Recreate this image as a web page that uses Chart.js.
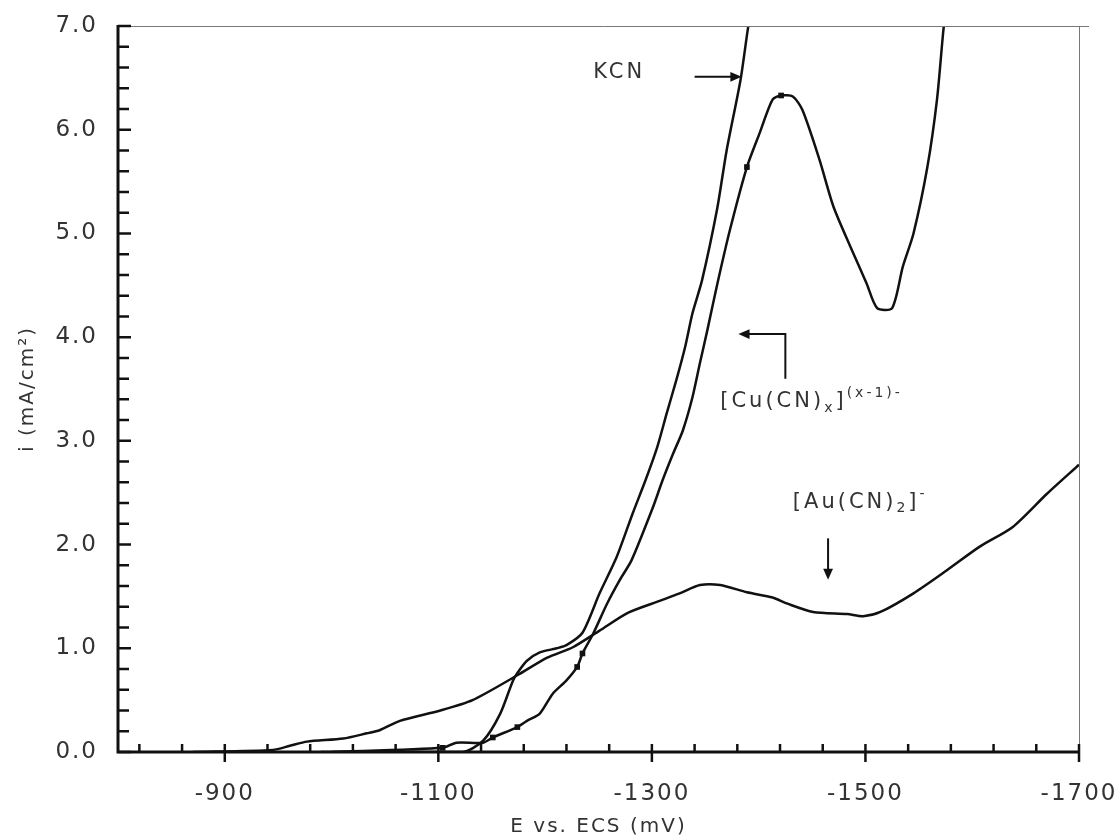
<!DOCTYPE html>
<html>
<head>
<meta charset="utf-8">
<script src="https://cdn.jsdelivr.net/npm/chart.js@4"></script>
<style>
  html,body{margin:0;padding:0;background:#fff;}
  #wrap{width:1119px;height:835px;}
</style>
</head>
<body>
<div id="wrap"><canvas id="cv"></canvas></div>
<script>
// E in mV vs ECS, i in mA/cm2
const auE  = [-870,-945,-961,-977,-1011,-1033,-1045,-1064,-1102,-1132,-1174,-1202,-1226,-1251,-1277,-1308,-1326,-1345,-1364,-1389,-1413,-1427,-1451,-1483,-1498,-1514,-1545,-1576,-1607,-1638,-1670,-1700];
const auI  = [0,0.02,0.06,0.10,0.13,0.18,0.21,0.30,0.40,0.50,0.74,0.91,1.01,1.17,1.34,1.46,1.53,1.61,1.61,1.54,1.49,1.43,1.35,1.33,1.31,1.35,1.53,1.75,1.98,2.17,2.49,2.77];

const kcnE = [-990,-1123,-1142,-1158,-1170,-1176,-1183,-1195,-1211,-1220,-1235,-1251,-1267,-1282,-1294,-1305,-1314,-1323,-1331,-1338,-1347,-1361,-1370,-1383,-1390,-1400];
const kcnI = [0,0,0.11,0.37,0.69,0.79,0.88,0.96,1.0,1.03,1.15,1.53,1.88,2.30,2.62,2.94,3.27,3.59,3.90,4.23,4.55,5.23,5.80,6.48,6.98,7.60];

const cuE  = [-1000,-1104,-1117,-1142,-1151,-1174,-1183,-1195,-1207,-1220,-1230,-1235,-1245,-1258,-1270,-1281,-1301,-1310,-1320,-1329,-1338,-1345,-1352,-1361,-1373,-1389,-1401,-1413,-1421,-1432,-1441,-1457,-1470,-1486,-1501,-1511,-1525,-1535,-1545,-1558,-1567,-1573,-1580];
const cuI  = [0,0.04,0.09,0.09,0.14,0.24,0.30,0.37,0.56,0.69,0.82,0.95,1.14,1.43,1.66,1.85,2.36,2.62,2.88,3.10,3.42,3.75,4.07,4.50,5.03,5.64,5.97,6.29,6.33,6.32,6.19,5.71,5.26,4.87,4.52,4.28,4.28,4.68,5.00,5.64,6.29,6.96,7.60];
// points of the Cu curve that carry a small square marker
const cuMarked = [-1104,-1151,-1174,-1230,-1235,-1389,-1421];

const xTicks = [-900,-1100,-1300,-1500,-1700];
const yTicks = [0,1,2,3,4,5,6,7];
const xTitle = 'E vs. ECS (mV)';
const yTitle = 'i (mA/cm²)';

const pts = (xs, ys) => xs.map((x, i) => ({x, y: ys[i]}));
const FONT = 'DejaVu Sans';
const INK = '#111';
const TXT = '#333';

function richText(ctx, parts, x, y, size) {
  let cx = x;
  parts.forEach(p => {
    const fs = p.sub || p.sup ? Math.round(size * 0.68) : size;
    ctx.font = fs + 'px "' + FONT + '"';
    const dy = p.sub ? size * 0.32 : p.sup ? -size * 0.38 : 0;
    ctx.fillText(p.t, cx, y + dy);
    cx += ctx.measureText(p.t).width;
  });
}

function arrowHead(ctx, x, y, dir) {
  const s = 7;
  ctx.beginPath();
  if (dir === 'right') { ctx.moveTo(x, y); ctx.lineTo(x - s*1.6, y - s*0.7); ctx.lineTo(x - s*1.6, y + s*0.7); }
  if (dir === 'left')  { ctx.moveTo(x, y); ctx.lineTo(x + s*1.6, y - s*0.7); ctx.lineTo(x + s*1.6, y + s*0.7); }
  if (dir === 'down')  { ctx.moveTo(x, y); ctx.lineTo(x - s*0.7, y - s*1.6); ctx.lineTo(x + s*0.7, y - s*1.6); }
  ctx.closePath();
  ctx.fill();
}

// frame, inward ticks and the curve labels
const framePlugin = {
  id: 'frame',
  beforeDraw(chart) { chart.ctx.letterSpacing = '2px'; },
  afterDraw(chart) {
    const {ctx, chartArea: a, scales: {x, y}} = chart;
    ctx.save();
    ctx.letterSpacing = '0px';
    ctx.strokeStyle = '#777';
    ctx.lineWidth = 1;
    ctx.beginPath();
    ctx.moveTo(a.left, a.top + 0.5); ctx.lineTo(a.right + 10, a.top + 0.5);
    ctx.moveTo(a.right + 0.5, a.top); ctx.lineTo(a.right + 0.5, a.bottom + 10);
    ctx.stroke();

    ctx.strokeStyle = INK;
    ctx.lineWidth = 3;
    ctx.beginPath();
    ctx.moveTo(a.left, a.top - 1); ctx.lineTo(a.left, a.bottom); ctx.lineTo(a.right, a.bottom);
    ctx.stroke();

    ctx.lineWidth = 2.5;
    ctx.beginPath();
    for (let k = 0; k <= 35; k++) {
      const py = y.getPixelForValue(k * 0.2);
      const len = k % 5 === 0 ? 13 : 11;
      ctx.moveTo(a.left, py); ctx.lineTo(a.left + len, py);
    }
    for (let e = -820; e >= -1700; e -= 40) {
      const px = x.getPixelForValue(e);
      const major = xTicks.includes(e);
      ctx.moveTo(px, a.bottom - 8); ctx.lineTo(px, a.bottom + (major ? 10 : 0));
    }
    ctx.stroke();

    // labels
    ctx.fillStyle = TXT;
    ctx.strokeStyle = INK;
    ctx.textBaseline = 'middle';
    ctx.textAlign = 'left';
    ctx.letterSpacing = '3px';

    const P = (e, i) => [x.getPixelForValue(e), y.getPixelForValue(i)];

    // KCN
    let [tx, ty] = P(-1245, 6.55);
    ctx.font = '21px "' + FONT + '"';
    ctx.fillText('KCN', tx, ty);
    let [ax0, ay0] = P(-1340, 6.51), [ax1] = P(-1384, 6.51);
    ctx.lineWidth = 2;
    ctx.beginPath(); ctx.moveTo(ax0, ay0); ctx.lineTo(ax1 - 6, ay0); ctx.stroke();
    ctx.fillStyle = INK; arrowHead(ctx, ax1, ay0, 'right'); ctx.fillStyle = TXT;

    // [Cu(CN)x](x-1)-
    [tx, ty] = P(-1364, 3.38);
    richText(ctx, [{t: '[Cu(CN)'}, {t: 'x', sub: true}, {t: ']'}, {t: '(x-1)-', sup: true}], tx, ty, 21);
    const [cx0, cy0] = P(-1425, 3.60), [, cy1] = P(-1425, 4.03), [cx1] = P(-1381, 4.03);
    ctx.beginPath(); ctx.moveTo(cx0, cy0); ctx.lineTo(cx0, cy1); ctx.lineTo(cx1 + 6, cy1); ctx.stroke();
    ctx.fillStyle = INK; arrowHead(ctx, cx1, cy1, 'left'); ctx.fillStyle = TXT;

    // [Au(CN)2]-
    [tx, ty] = P(-1432, 2.41);
    richText(ctx, [{t: '[Au(CN)'}, {t: '2', sub: true}, {t: ']'}, {t: '-', sup: true}], tx, ty, 21);
    const [ux, uy0] = P(-1465, 2.06), [, uy1] = P(-1465, 1.66);
    ctx.beginPath(); ctx.moveTo(ux, uy0); ctx.lineTo(ux, uy1 - 6); ctx.stroke();
    ctx.fillStyle = INK; arrowHead(ctx, ux, uy1, 'down');
    ctx.restore();
  }
};

const line = {borderColor: INK, borderWidth: 2.5, pointRadius: 0, tension: 0.25, fill: false};

new Chart(document.getElementById('cv'), {
  type: 'line',
  data: {
    datasets: [
      {label: 'KCN', data: pts(kcnE, kcnI), ...line},
      {label: '[Cu(CN)x](x-1)-', data: pts(cuE, cuI), ...line,
       pointStyle: 'rect', pointBackgroundColor: INK, pointBorderWidth: 0,
       pointRadius: c => cuMarked.includes(cuE[c.dataIndex]) ? 4 : 0},
      {label: '[Au(CN)2]-', data: pts(auE, auI), ...line}
    ]
  },
  options: {
    responsive: true,
    maintainAspectRatio: false,
    animation: false,
    layout: {padding: {left: 0, right: 40, top: 26, bottom: 0}},
    plugins: {legend: {display: false}, tooltip: {enabled: false}},
    scales: {
      x: {
        type: 'linear', reverse: true, min: -1700, max: -800,
        afterBuildTicks: s => { s.ticks = xTicks.map(v => ({value: v})); },
        afterFit: s => { s.height = 83; s.paddingLeft = 0; s.paddingRight = 0; },
        grid: {display: false, drawTicks: false},
        border: {display: false},
        ticks: {callback: v => String(v), padding: 28, color: TXT, maxRotation: 0, autoSkip: false,
                font: {family: FONT, size: 23}},
        title: {display: true, text: xTitle, color: TXT, padding: {top: 0, bottom: 0},
                font: {family: FONT, size: 20, lineHeight: 0.8}}
      },
      y: {
        min: 0, max: 7,
        afterBuildTicks: s => { s.ticks = yTicks.map(v => ({value: v})); },
        afterFit: s => { s.width = 118; s.paddingTop = 0; s.paddingBottom = 0; },
        grid: {display: false, drawTicks: false},
        border: {display: false},
        ticks: {callback: v => v.toFixed(1), padding: 20, color: TXT, font: {family: FONT, size: 23}},
        title: {display: true, text: yTitle, color: TXT, padding: {top: 18, bottom: 0},
                font: {family: FONT, size: 20, lineHeight: 1}}
      }
    }
  },
  plugins: [framePlugin]
});
</script>
</body>
</html>
